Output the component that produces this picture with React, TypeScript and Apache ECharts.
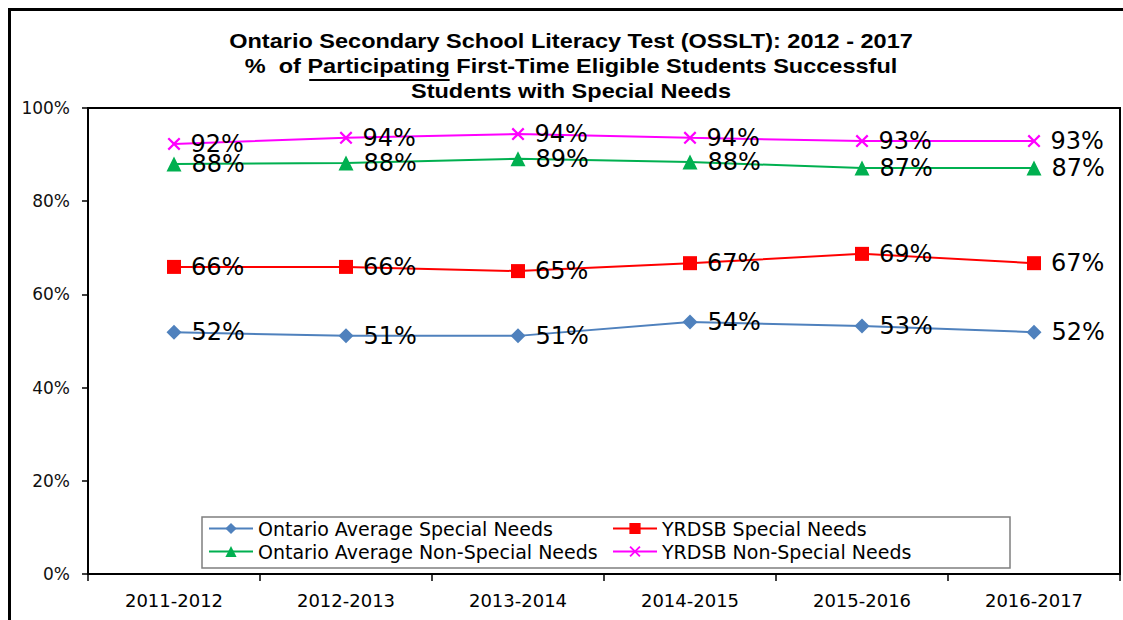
import React, { useEffect, useRef } from 'react';
import * as echarts from 'echarts';

const categories = ['2011-2012', '2012-2013', '2013-2014', '2014-2015', '2015-2016', '2016-2017'];
const ontarioSpecial = [51.9, 51.1, 51.1, 54.1, 53.2, 51.9];
const yrdsbSpecial = [65.9, 65.9, 65.0, 66.7, 68.7, 66.7];
const ontarioNonSpecial = [88.0, 88.2, 89.1, 88.4, 87.1, 87.1];
const yrdsbNonSpecial = [92.3, 93.6, 94.4, 93.6, 92.9, 92.9];

const seriesNames = [
  'Ontario Average Special Needs',
  'YRDSB Special Needs',
  'Ontario Average Non-Special Needs',
  'YRDSB Non-Special Needs',
];

const titleLine1 = 'Ontario Secondary School Literacy Test (OSSLT): 2012 - 2017';
const titleLine2Pre = '%  of ';
const titleLine2Word = 'Participating';
const titleLine2Post = ' First-Time Eligible Students Successful';
const titleLine3 = 'Students with Special Needs';

const FONT = '"DejaVu Sans", "Liberation Sans", Arial, sans-serif';
const TFONT = '"Liberation Sans", Arial, sans-serif';
const X_SYMBOL = 'path://M0,1.2L1.2,0L5,3.8L8.8,0L10,1.2L6.2,5L10,8.8L8.8,10L5,6.2L1.2,10L0,8.8L3.8,5Z';

export default function App() {
  const ref = useRef<HTMLDivElement>(null);
  useEffect(() => {
    const chart = echarts.init(ref.current as HTMLDivElement, null, { renderer: 'svg' });
    const titleSize = 21;
    const sx = 1.12;
    const cx = 571;
    const ctx = document.createElement('canvas').getContext('2d') as CanvasRenderingContext2D;
    ctx.font = `bold ${titleSize}px "Liberation Sans", Arial`;
    const line2 = titleLine2Pre + titleLine2Word + titleLine2Post;
    const W = ctx.measureText(line2).width * sx;
    const P = ctx.measureText(titleLine2Pre).width * sx;
    const Q = ctx.measureText(titleLine2Word).width * sx;
    const start = cx - W / 2;

    const label = {
      show: true,
      position: 'right',
      distance: 10,
      formatter: (p: any) => Math.round(p.value) + '%',
      fontSize: 24,
      fontFamily: FONT,
      color: '#000',
    };
    const mk = (name: string, data: number[], color: string, symbol: string, size: number) => ({
      type: 'line',
      name,
      data,
      symbol,
      symbolSize: size,
      lineStyle: { color, width: 2 },
      itemStyle: { color },
      label,
    });
    const titleText = (text: string, y: number) => ({
      type: 'text',
      x: cx,
      y,
      scaleX: sx,
      silent: true,
      style: {
        text,
        fill: '#000',
        font: `bold ${titleSize}px ${TFONT}`,
        textAlign: 'center',
        textVerticalAlign: 'middle',
      },
    });
    const legendCommon = {
      orient: 'vertical',
      top: 519,
      itemWidth: 44,
      itemHeight: 14,
      itemGap: 4,
      padding: 0,
      selectedMode: false,
      z: 5,
      textStyle: { fontSize: 19, color: '#000', fontFamily: FONT },
    };

    chart.setOption({
      animation: false,
      backgroundColor: '#fff',
      grid: {
        left: 88,
        right: 3,
        top: 108,
        bottom: 46,
        show: true,
        borderColor: '#000',
        borderWidth: 2,
        containLabel: false,
      },
      xAxis: {
        type: 'category',
        data: categories,
        boundaryGap: true,
        axisLine: { show: true, lineStyle: { color: '#000', width: 2 } },
        axisTick: { show: true, length: 7, lineStyle: { color: '#000', width: 1.5 } },
        axisLabel: { fontSize: 18, color: '#000', margin: 17, fontFamily: FONT },
        splitLine: { show: false },
      },
      yAxis: {
        type: 'value',
        min: 0,
        max: 100,
        interval: 20,
        axisLine: { show: true, lineStyle: { color: '#000', width: 2 } },
        axisTick: { show: true, length: 6, lineStyle: { color: '#000', width: 1.5 } },
        axisLabel: { formatter: '{value}%', fontSize: 17, color: '#111', margin: 18, fontFamily: FONT },
        splitLine: { show: false },
      },
      legend: [
        { ...legendCommon, left: 208, data: [seriesNames[0], seriesNames[2]] },
        { ...legendCommon, left: 612, data: [seriesNames[1], seriesNames[3]] },
      ],
      graphic: [
        {
          type: 'rect',
          silent: true,
          z: 0,
          shape: { x: 9.5, y: 9.5, width: 1400, height: 900 },
          style: { fill: 'none', stroke: '#000', lineWidth: 3 },
        },
        {
          type: 'rect',
          silent: true,
          z: 3,
          shape: { x: 202, y: 517, width: 808, height: 51 },
          style: { fill: '#fff', stroke: '#7f7f7f', lineWidth: 1.5 },
        },
        titleText(titleLine1, 41),
        titleText(line2, 66),
        titleText(titleLine3, 91),
        {
          type: 'line',
          silent: true,
          shape: { x1: start + P + 2, y1: 80, x2: start + P + Q, y2: 80 },
          style: { stroke: '#000', lineWidth: 2 },
        },
      ],
      series: [
        mk(seriesNames[0], ontarioSpecial, '#4F81BD', 'diamond', 15),
        mk(seriesNames[1], yrdsbSpecial, '#FF0000', 'rect', 14),
        mk(seriesNames[2], ontarioNonSpecial, '#00B050', 'triangle', 15),
        mk(seriesNames[3], yrdsbNonSpecial, '#FF00FF', X_SYMBOL, 13),
      ],
    });
    return () => chart.dispose();
  }, []);
  return (
    <div
      ref={ref}
      style={{ position: 'absolute', left: 0, top: 0, width: 1123, height: 620, background: '#fff' }}
    />
  );
}
